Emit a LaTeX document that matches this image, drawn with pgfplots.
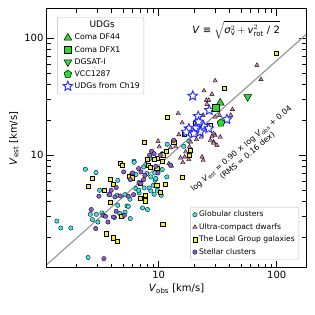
\documentclass[border=0pt]{standalone}
\usepackage{pgfplots}
\pgfplotsset{compat=1.18}
\usepackage{fontspec}
\setmainfont{DejaVu Sans}
\usetikzlibrary{plotmarks}

\definecolor{gccyan}{RGB}{64,226,226}
\definecolor{ucdpink}{RGB}{214,130,178}
\definecolor{lgyellow}{RGB}{242,238,30}
\definecolor{scpurple}{RGB}{142,92,212}
\definecolor{udggreen}{RGB}{40,222,40}
\definecolor{starblue}{RGB}{30,40,255}

\pgfdeclareplotmark{fivestar}{%
  \pgfpathmoveto{\pgfpointpolar{90}{\pgfplotmarksize}}%
  \pgfpathlineto{\pgfpointpolar{126}{0.45\pgfplotmarksize}}%
  \pgfpathlineto{\pgfpointpolar{162}{\pgfplotmarksize}}%
  \pgfpathlineto{\pgfpointpolar{198}{0.45\pgfplotmarksize}}%
  \pgfpathlineto{\pgfpointpolar{234}{\pgfplotmarksize}}%
  \pgfpathlineto{\pgfpointpolar{270}{0.45\pgfplotmarksize}}%
  \pgfpathlineto{\pgfpointpolar{306}{\pgfplotmarksize}}%
  \pgfpathlineto{\pgfpointpolar{342}{0.45\pgfplotmarksize}}%
  \pgfpathlineto{\pgfpointpolar{18}{\pgfplotmarksize}}%
  \pgfpathlineto{\pgfpointpolar{54}{0.45\pgfplotmarksize}}%
  \pgfpathclose\pgfusepathqfillstroke}

\begin{document}
\begin{tikzpicture}
\begin{axis}[scale only axis, width=259pt, height=259pt,
  xmode=log, ymode=log, xmin=1.13, xmax=177, ymin=1.09, ymax=177,
  xtick={10,100}, ytick={10,100}, xticklabels={10,100}, yticklabels={10,100},
  minor xtick={2,3,4,5,6,7,8,9,20,30,40,50,60,70,80,90},
  minor ytick={2,3,4,5,6,7,8,9,20,30,40,50,60,70,80,90},
  tick align=inside, major tick length=7pt, minor tick length=4pt,
  every tick/.append style={black, line width=0.8pt},
  axis line style={line width=1pt},
  tick label style={font=\fontsize{10}{12}\selectfont},
  xlabel={\textit{V}\textsubscript{obs} [km/s]},
  ylabel={\textit{V}\textsubscript{est} [km/s]},
  xlabel style={font=\fontsize{10}{12}\selectfont, at={(axis description cs:0.5,-0.08)}, anchor=center},
  ylabel style={font=\fontsize{10}{12}\selectfont, at={(axis description cs:-0.128,0.5)}, anchor=center},
  legend style={at={(0.973,0.031)}, anchor=south east, font=\fontsize{7.6}{8.6}\selectfont,
    draw=black!25, rounded corners=2pt, fill=white,
    row sep=1.2pt, inner sep=2pt},
  legend cell align=left,
]
\addplot[forget plot, color=black!40, line width=1.2pt] coordinates {(1.13,1.17) (177,107)};

\addplot[only marks, mark=*, mark size=2.2pt, mark options={draw=black, line width=0.35pt, fill=gccyan}] coordinates {
(2.39,7.59) (2.94,7.11) (6.17,8.89) (1.37,2.74) (1.48,2.39) (1.80,2.39) (2.52,1.34)
(3.15,5.02) (4.50,6.11) (3.78,4.61) (4.44,4.55) (5.18,4.61) (2.63,3.13) (2.96,3.13)
(2.74,2.82) (3.05,2.69) (3.30,3.21) (4.50,3.74) (4.68,3.18) (5.38,3.69) (5.74,2.88)
(5.70,4.21) (5.93,6.98) (6.41,5.19) (6.82,4.76) (7.29,3.55) (8.03,3.44) (5.18,3.27)
(9.14,4.64) (7.52,5.26) (8.29,5.26) (9.31,6.11) (7.78,8.33) (8.40,9.37) (8.57,6.53)
(4.98,3.07) (4.21,2.94) (6.19,8.71) (7.44,7.94) (5.91,6.65) (6.41,6.84) (7.92,6.98)
(9.25,7.06) (10.7,7.55) (11.7,6.53) (9.44,6.33) (9.02,5.54) (6.75,5.02) (8.57,4.95)
(9.75,5.02) (10.7,10.3) (11.8,12.4) (5.52,3.66) (16.3,11.9) (18.0,13.2) (10.5,4.55)
};
\addlegendentry{Globular clusters}

\addplot[only marks, mark=triangle*, mark size=2.5pt, mark options={draw=black, line width=0.35pt, fill=ucdpink}] coordinates {
(67.9,58.7) (73.5,44.4) (30.1,43.2) (24.2,35.5) (28.2,33.2) (14.6,22.7) (42.1,24.6)
(15.8,18.9) (30.1,14.8) (28.2,14.5) (29.2,13.0) (33.2,14.3) (27.4,13.4) (23.3,9.67)
(25.3,29.5) (25.6,27.3) (40.8,22.0) (23.8,22.0) (30.1,21.2) (32.7,22.0) (29.2,15.3)
(29.2,12.7) (20.9,13.6) (22.9,14.3) (23.8,9.06) (31.1,12.2) (9.87,13.2) (10.1,11.8)
(12.6,11.6) (13.9,11.8) (12.2,8.49) (12.8,8.11) (15.3,9.48) (16.9,10.7) (14.8,15.0)
(18.2,11.8) (18.0,9.19) (16.0,8.67) (16.6,9.67) (18.6,13.0) (26.5,29.5)
};
\addlegendentry{Ultra-compact dwarfs}

\addplot[only marks, mark=square*, mark size=2.1pt, mark options={draw=black, line width=0.35pt, fill=lgyellow}] coordinates {
(2.53,5.43) (2.74,6.35) (3.47,5.02) (3.85,6.24) (4.08,5.63) (4.70,8.49) (4.92,8.17)
(5.62,6.62) (5.93,6.44) (8.13,8.22) (8.03,9.19) (6.97,5.80) (6.92,4.32) (7.73,4.10)
(9.62,5.54) (9.62,7.78) (9.68,9.48) (3.87,3.99) (4.80,3.01) (3.56,2.14) (4.08,1.98)
(4.47,1.84) (7.52,13.0) (8.45,7.94) (9.14,9.24) (10.9,10.1) (11.5,10.8) (13.4,12.9)
(15.8,6.53) (11.3,5.63) (10.3,4.85) (7.67,4.55) (16.5,15.1) (10.7,8.89) (10.8,2.57)
(99.4,74.0) (36.1,37.2) (11.8,21.0) (20.2,18.9) (27.0,18.0) (18.2,10.0) (18.6,11.0)
};
\addlegendentry{The Local Group galaxies}

\addplot[only marks, mark=*, mark size=2.2pt, mark options={draw=black, line width=0.35pt, fill=scpurple}] coordinates {
(3.43,1.31) (2.92,2.37) (2.68,3.44) (3.38,3.07) (3.71,2.69) (3.54,3.01) (4.13,2.97)
(3.11,4.47) (3.95,5.02) (4.36,5.30) (3.85,4.61) (4.25,4.41) (4.73,4.49) (4.36,3.32)
(5.11,3.07) (5.05,7.20) (5.74,6.19) (6.75,7.69) (7.63,6.75) (9.44,8.05) (7.44,6.19)
(6.79,5.85) (8.36,10.0) (8.69,10.8) (9.14,10.3) (10.3,10.0) (6.01,7.06) (7.06,7.20)
(7.06,5.73) (6.12,4.61) (5.52,4.47) (9.87,7.06) (13.4,13.4) (12.6,8.22)
};
\addlegendentry{Stellar clusters}

\node[font=\fontsize{10}{12}\selectfont] at (axis description cs:0.73,0.919)
  {\textit{V} ≡ $\sqrt{\mbox{\itshape σ}^2_{\mbox{\scriptsize v}} + \mbox{\itshape v}^2_{\mbox{\scriptsize rot}}\mbox{ / 2}}$};
\node[font=\fontsize{7.8}{9.5}\selectfont, rotate=40, align=center] at (axis description cs:0.762,0.447)
  {log \textit{V}\textsubscript{est} = 0.90 × log \textit{V}\textsubscript{obs} + 0.04\\(RMS = 0.16 dex)};
\end{axis}

\begin{axis}[scale only axis, width=259pt, height=259pt,
  xmode=log, ymode=log, xmin=1.13, xmax=177, ymin=1.09, ymax=177,
  hide axis,
  legend style={at={(0.039,0.969)}, anchor=north west, font=\fontsize{7.8}{9}\selectfont,
    draw=black!25, rounded corners=2pt, fill=white,
    row sep=0.8pt, inner sep=2pt},
  legend cell align=left,
]
\addlegendimage{empty legend}
\addlegendentry{\hspace*{15pt}{\fontsize{9}{10.5}\selectfont UDGs}}
\addlegendimage{only marks, mark=triangle*, mark size=4.5pt, mark options={fill=udggreen, draw=black, line width=0.5pt}}
\addlegendentry{Coma DF44}
\addlegendimage{only marks, mark=square*, mark size=3.6pt, mark options={fill=udggreen, draw=black, line width=0.5pt}}
\addlegendentry{Coma DFX1}
\addlegendimage{only marks, mark=triangle*, mark size=4.5pt, mark options={fill=udggreen, draw=black, line width=0.5pt, rotate=180}}
\addlegendentry{DGSAT-I}
\addlegendimage{only marks, mark=pentagon*, mark size=4pt, mark options={fill=udggreen, draw=black, line width=0.5pt}}
\addlegendentry{VCC1287}
\addlegendimage{only marks, mark=fivestar, mark size=5pt, mark options={fill=white, draw=starblue, line width=0.9pt}}
\addlegendentry{UDGs from Ch19}

\addplot[forget plot, only marks, mark=fivestar, mark size=5pt, mark options={fill=white, draw=starblue, line width=0.9pt}] coordinates {
(19.4,32.1) (26.8,24.2) (21.6,21.5) (37.8,20.2) (24.0,17.7) (18.0,16.9) (22.5,15.8)
(26.5,16.9) (17.1,15.8) (20.5,17.1) (21.8,19.3) (19.8,15.3)
};
\addplot[forget plot, only marks, mark=triangle*, mark size=4.5pt, mark options={fill=udggreen, draw=black, line width=0.5pt}] coordinates {(33.2,28.0)};
\addplot[forget plot, only marks, mark=square*, mark size=3.6pt, mark options={fill=udggreen, draw=black, line width=0.5pt}] coordinates {(30.5,25.4)};
\addplot[forget plot, only marks, mark=triangle*, mark size=4.5pt, mark options={fill=udggreen, draw=black, line width=0.5pt, rotate=180}] coordinates {(56.7,31.5)};
\addplot[forget plot, only marks, mark=pentagon*, mark size=4pt, mark options={fill=udggreen, draw=black, line width=0.5pt}] coordinates {(33.6,18.9)};
\end{axis}
\pgfresetboundingbox
\path[use as bounding box] (current axis.south west) ++(-47pt,-47pt) rectangle ([shift={(9pt,9pt)}]current axis.north east);
\end{tikzpicture}
\end{document}
